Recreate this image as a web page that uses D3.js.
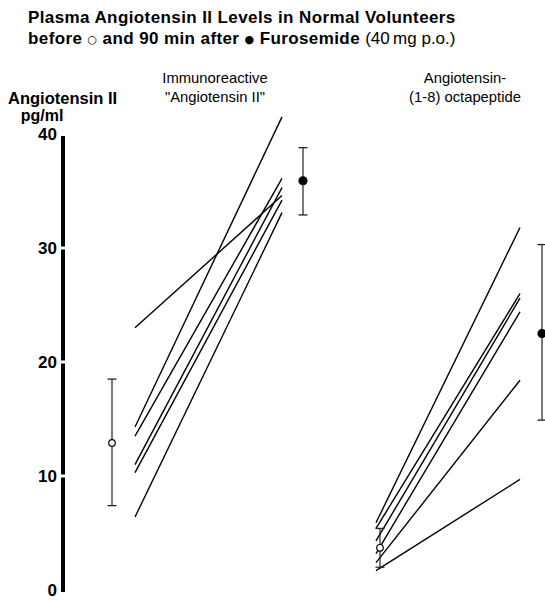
<!DOCTYPE html>
<html>
<head>
<meta charset="utf-8">
<script src="https://cdn.jsdelivr.net/npm/d3@7"></script>
<style>
  body { margin: 0; background: #fff; }
  svg { font-family: "Liberation Sans", Arial, sans-serif; }
</style>
</head>
<body>
<div id="chart"></div>
<script>
// individual volunteers, before -> 90 min after furosemide (pg/ml)
const immunoBefore = [23.0, 14.3, 13.5, 11.0, 10.3, 6.4];
const immunoAfter  = [34.6, 41.5, 36.1, 35.3, 34.2, 33.1];
const octaBefore   = [5.9, 5.4, 4.3, 3.2, 2.4, 1.7];
const octaAfter    = [31.8, 26.0, 25.6, 24.4, 18.4, 9.7];

// mean with range bars: [low, mean, high]
const immunoBeforeBar = [7.4, 12.9, 18.5];
const immunoAfterBar  = [32.9, 35.9, 38.8];
const octaBeforeBar   = [2.0, 3.7, 5.4];
const octaAfterBar    = [14.9, 22.5, 30.3];

const yTicks = [0, 10, 20, 30, 40];

const width = 545, height = 600;

const svg = d3.select("#chart")
    .append("svg")
    .attr("width", width)
    .attr("height", height);

const y = d3.scaleLinear().domain([0, 40]).range([590, 134]);

// x positions inside each panel: 0 = before, 1 = after
const xLeft = d3.scaleLinear().domain([0, 1]).range([135, 282]);
const xRight = d3.scaleLinear().domain([0, 1]).range([376, 520]);

// title
svg.append("text")
    .attr("x", 28).attr("y", 23)
    .style("font-size", "17px").style("font-weight", "bold")
    .style("letter-spacing", "0.4px")
    .text("Plasma Angiotensin II Levels in Normal Volunteers");

const t2 = svg.append("text")
    .attr("x", 28).attr("y", 44)
    .style("font-size", "17px").style("font-weight", "bold")
    .style("letter-spacing", "0.4px");
t2.append("tspan").text("before ");
t2.append("tspan").text("\u25CB").style("font-size", "11px").style("font-weight", "normal")
    .style("font-family", "DejaVu Sans").attr("dy", -1);
t2.append("tspan").text(" and 90 min after ").attr("dy", 1);
t2.append("tspan").text("\u25CF").style("font-size", "11px")
    .style("font-family", "DejaVu Sans").attr("dy", -1);
t2.append("tspan").text(" Furosemide ").attr("dy", 1);
t2.append("tspan").text("(40\u2009mg p.o.)").style("font-weight", "normal").style("letter-spacing", "0px");

// y axis label
svg.append("text")
    .attr("x", 8).attr("y", 104)
    .style("font-size", "16.5px").style("font-weight", "bold")
    .text("Angiotensin II");
svg.append("text")
    .attr("x", 42).attr("y", 121)
    .attr("text-anchor", "middle")
    .style("font-size", "16px").style("font-weight", "bold")
    .text("pg/ml");

// panel headers
function header(x, lines) {
    lines.forEach((s, i) => {
        svg.append("text")
            .attr("x", x).attr("y", 83 + i * 19)
            .attr("text-anchor", "middle")
            .style("font-size", "14.8px")
            .text(s);
    });
}
header(215, ["Immunoreactive", "\"Angiotensin II\""]);
header(465, ["Angiotensin-", "(1-8) octapeptide"]);

// y axis: thick bar broken at each tick
const axisX = 63;
const axisG = svg.append("g")
    .attr("transform", `translate(${axisX},0)`)
    .call(d3.axisLeft(y).tickValues(yTicks).tickSize(0).tickPadding(6));
axisG.select(".domain").remove();
axisG.selectAll("text")
    .style("font-size", "17px")
    .style("font-weight", "bold")
    .style("font-family", "Liberation Sans, Arial, sans-serif")
    .style("fill", "#000");

const segs = d3.pairs(yTicks);
svg.selectAll(".axis-seg")
    .data(segs)
    .enter().append("line")
    .attr("class", "axis-seg")
    .attr("x1", axisX).attr("x2", axisX)
    .attr("y1", d => y(d[0]) + (d[0] === 0 ? 2 : -1.5))
    .attr("y2", d => y(d[1]) + (d[1] === 40 ? 2 : 1.5))
    .style("stroke", "#000")
    .style("stroke-width", 4);

// one line per volunteer
function drawLines(xs, before, after) {
    const pts = before.map((b, i) => [[xs(0), y(b)], [xs(1), y(after[i])]]);
    svg.append("g").selectAll("path")
        .data(pts)
        .enter().append("path")
        .attr("d", d3.line())
        .style("fill", "none")
        .style("stroke", "#000")
        .style("stroke-width", 1.4);
}
drawLines(xLeft, immunoBefore, immunoAfter);
drawLines(xRight, octaBefore, octaAfter);

// mean and range bars
function errBar(x, bar, filled) {
    const g = svg.append("g");
    g.append("line")
        .attr("x1", x).attr("x2", x)
        .attr("y1", y(bar[0])).attr("y2", y(bar[2]))
        .style("stroke", "#222").style("stroke-width", 1.2);
    [bar[0], bar[2]].forEach(v => {
        g.append("line")
            .attr("x1", x - 4.5).attr("x2", x + 4.5)
            .attr("y1", y(v)).attr("y2", y(v))
            .style("stroke", "#222").style("stroke-width", 1.3);
    });
    g.append("circle")
        .attr("cx", x).attr("cy", y(bar[1]))
        .attr("r", filled ? 4 : 3.3)
        .style("fill", filled ? "#000" : "#fff")
        .style("stroke", "#000")
        .style("stroke-width", 1.2);
}
errBar(112, immunoBeforeBar, false);
errBar(303, immunoAfterBar, true);
errBar(380, octaBeforeBar, false);
errBar(542, octaAfterBar, true);
</script>
</body>
</html>
